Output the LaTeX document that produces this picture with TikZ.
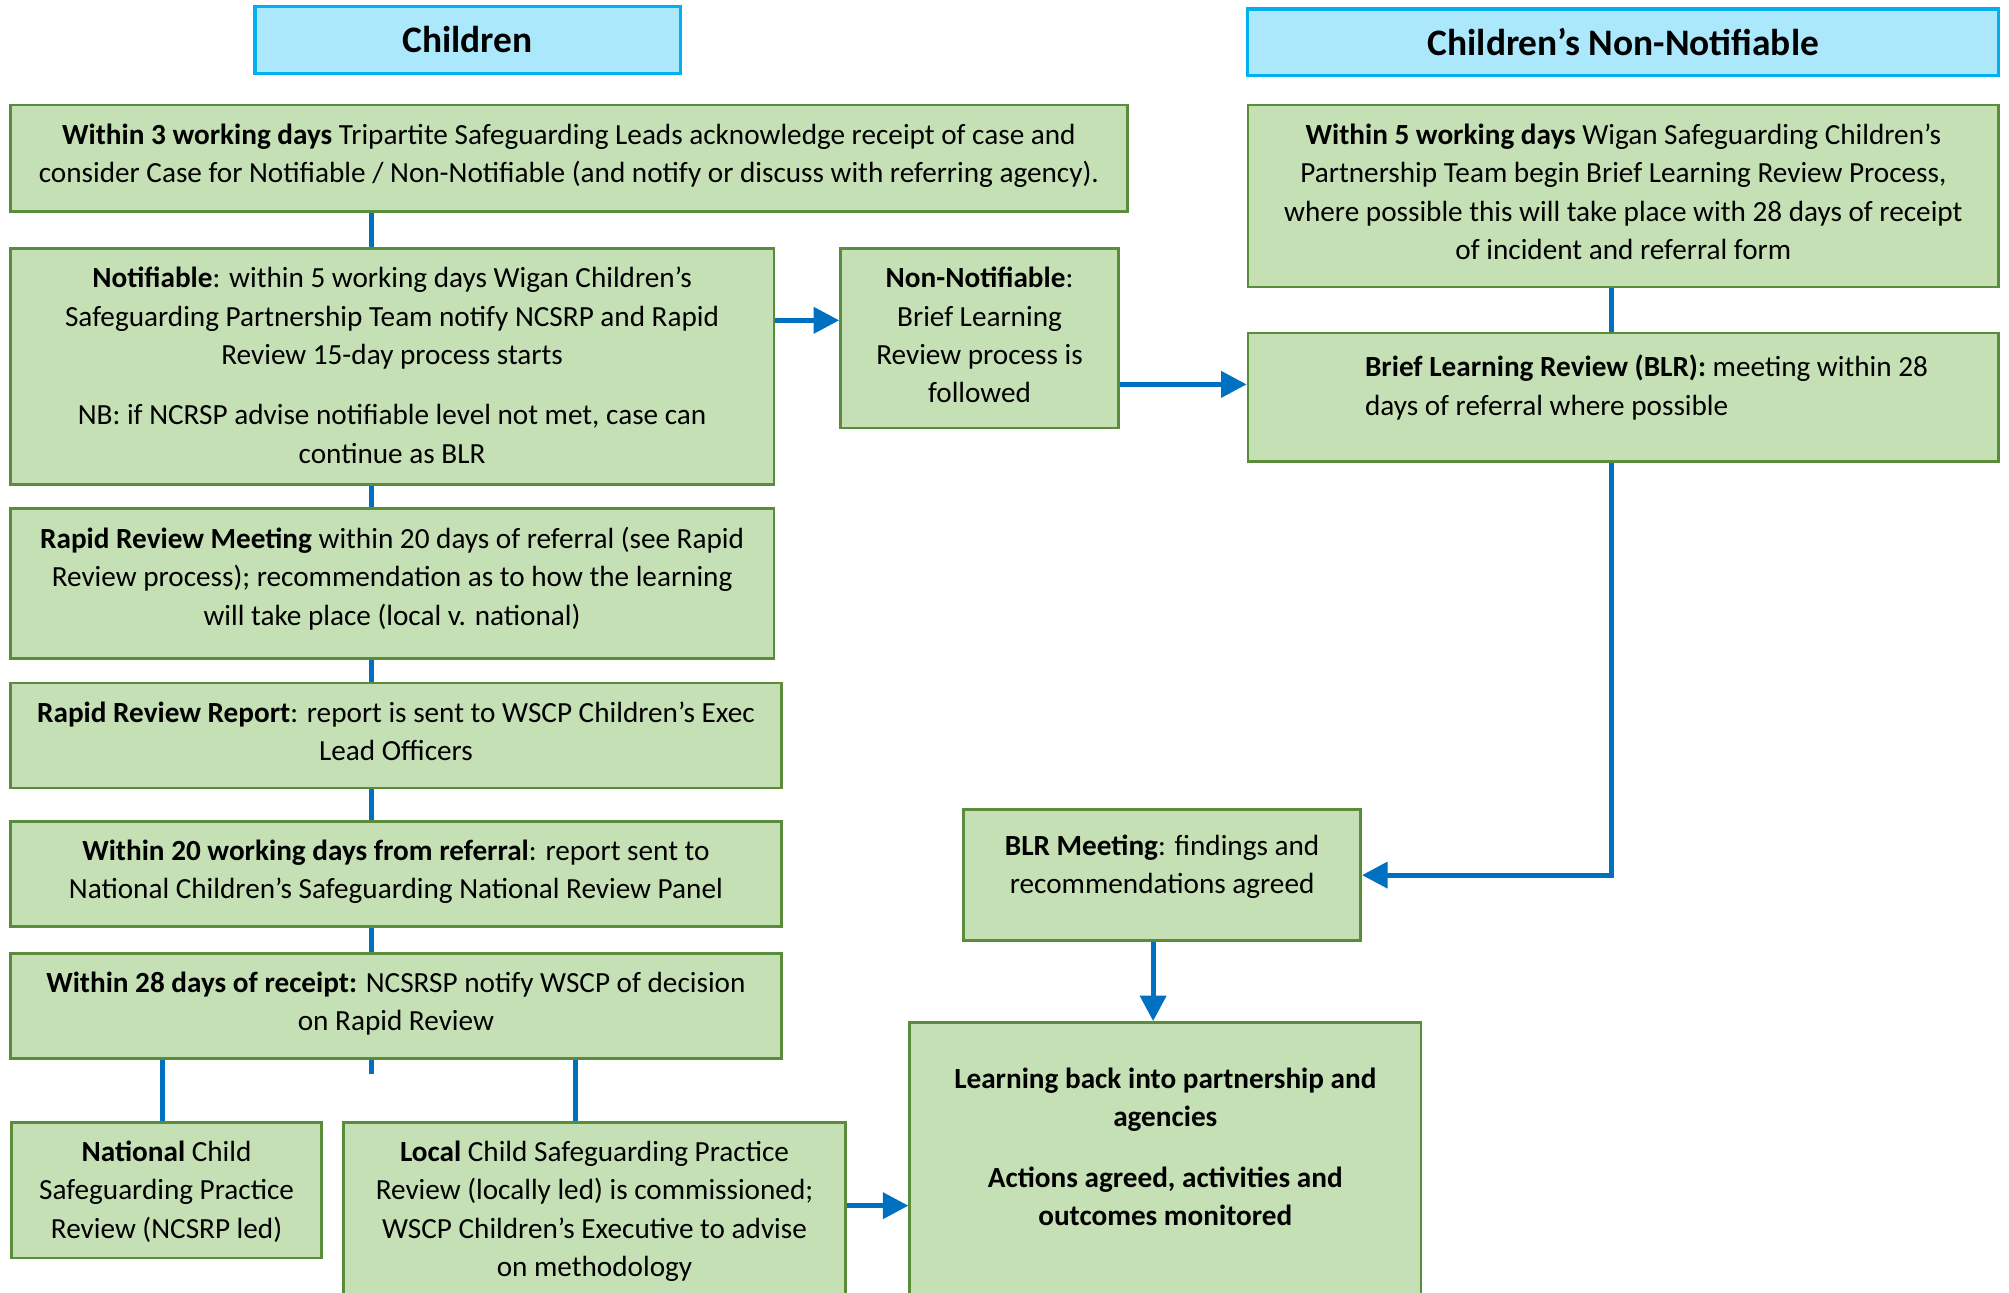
\documentclass[tikz,border=0pt]{standalone}
\usepackage{fontspec}
\setmainfont{Carlito}
\usetikzlibrary{arrows.meta}
\definecolor{gfill}{HTML}{C5E0B4}
\definecolor{gline}{HTML}{5B8C3C}
\definecolor{hfill}{HTML}{ABE8FC}
\definecolor{hline}{HTML}{00B0F0}
\definecolor{conncol}{HTML}{0070C0}
\begin{document}
\begin{tikzpicture}[x=0.5pt,y=-0.5pt,
  gbox/.style={draw=gline,fill=gfill,line width=1pt,inner sep=0pt,rectangle},
  hbox/.style={draw=hline,fill=hfill,line width=1.2pt,inner sep=0pt,rectangle,
    font=\fontsize{14.6}{17}\selectfont\bfseries},
  txt/.style={align=center,inner sep=0pt,yshift=-2pt,font=\fontsize{11.4}{15}\selectfont,
    execute at begin node=\strut,execute at end node=\strut},
  conn/.style={draw=conncol,line width=2pt},
  arr/.style={conn,-{Triangle[length=10pt,width=10pt]}}]
\useasboundingbox (0,0) rectangle (1568,1009);
\fill[white] (0,0) rectangle (1568,1009);

% headers
\node[hbox,minimum width=166pt,minimum height=26pt] (hL) at (365,31) {Children};
\node[hbox,minimum width=293pt,minimum height=26pt] (hR) at (1267,33) {Children’s Non-Notifiable};

% boxes
\node[gbox,minimum width=436pt,minimum height=41.5pt] (A) at (444,123.5) {};
\node[gbox,minimum width=298pt,minimum height=92pt] (B) at (306,286) {};
\node[gbox,minimum width=108.5pt,minimum height=70pt] (C) at (764.5,264) {};
\node[gbox,minimum width=293pt,minimum height=71pt] (D) at (1267,153) {};
\node[gbox,minimum width=293pt,minimum height=50pt] (E) at (1267,310) {};
\node[gbox,minimum width=298pt,minimum height=58.5pt] (F) at (306,455.5) {};
\node[gbox,minimum width=301pt,minimum height=41pt] (G) at (309,574) {};
\node[gbox,minimum width=301pt,minimum height=41pt] (H) at (309,682) {};
\node[gbox,minimum width=301pt,minimum height=41pt] (I) at (309,785) {};
\node[gbox,minimum width=121pt,minimum height=53pt] (J) at (130,929) {};
\node[gbox,minimum width=196pt,minimum height=82pt] (K) at (464,958) {};
\node[gbox,minimum width=155pt,minimum height=51pt] (L) at (907,683) {};
\node[gbox,minimum width=199.5pt,minimum height=121pt] (M) at (909.5,919) {};

% texts
\node[txt] (At) at (444,120) {\textbf{Within 3 working days} Tripartite Safeguarding Leads acknowledge receipt of case and\\consider Case for Notifiable / Non-Notifiable (and notify or discuss with referring agency).};
\node[txt] (Bt) at (306,285.5) {\textbf{Notifiable}: within 5 working days Wigan Children’s\\Safeguarding Partnership Team notify NCSRP and Rapid\\Review 15-day process starts\\[8.5pt]NB: if NCRSP advise notifiable level not met, case can\\continue as BLR};
\node[txt] (Ct) at (764.5,262) {\textbf{Non-Notifiable}:\\Brief Learning\\Review process is\\followed};
\node[txt] (Dt) at (1267,150) {\textbf{Within 5 working days} Wigan Safeguarding Children’s\\Partnership Team begin Brief Learning Review Process,\\where possible this will take place with 28 days of receipt\\of incident and referral form};
\node[txt,align=left,anchor=west] (Et) at (1065,301) {\textbf{Brief Learning Review (BLR):} meeting within 28\\days of referral where possible};
\node[txt] (Ft) at (306,450) {\textbf{Rapid Review Meeting} within 20 days of referral (see Rapid\\Review process); recommendation as to how the learning\\will take place (local v. national)};
\node[txt] (Gt) at (309,571) {\textbf{Rapid Review Report}: report is sent to WSCP Children’s Exec\\Lead Officers};
\node[txt] (Ht) at (309,679) {\textbf{Within 20 working days from referral}: report sent to\\National Children’s Safeguarding National Review Panel};
\node[txt] (It) at (309,782) {\textbf{Within 28 days of receipt:} NCSRSP notify WSCP of decision\\on Rapid Review};
\node[txt] (Jt) at (130,929) {\textbf{National} Child\\Safeguarding Practice\\Review (NCSRP led)};
\node[txt] (Kt) at (464,944) {\textbf{Local} Child Safeguarding Practice\\Review (locally led) is commissioned;\\WSCP Children’s Executive to advise\\on methodology};
\node[txt] (Lt) at (907,675) {\textbf{BLR Meeting}: findings and\\recommendations agreed};
\node[txt,font=\fontsize{11.4}{15}\selectfont\bfseries] (Mt) at (909.5,895.5) {Learning back into partnership and\\agencies\\[8.5pt]Actions agreed, activities and\\outcomes monitored};

% guide coordinates
\coordinate (sp) at (290,0);
\coordinate (sJ) at (127,0);
\coordinate (sK) at (449,0);
\coordinate (sR) at (1258,0);
\coordinate (sLM) at (900,0);
\coordinate (yBC) at (0,250);
\coordinate (yCE) at (0,300);
\coordinate (yKM) at (0,941);
\coordinate (stub) at (290,838);

% connectors
\draw[conn] (A.south -| sp) -- (B.north -| sp);
\draw[conn] (B.south -| sp) -- (F.north -| sp);
\draw[conn] (F.south -| sp) -- (G.north -| sp);
\draw[conn] (G.south -| sp) -- (H.north -| sp);
\draw[conn] (H.south -| sp) -- (I.north -| sp);
\draw[conn] (I.south -| sp) -- (stub);
\draw[conn] (I.south -| sJ) -- (J.north -| sJ);
\draw[conn] (I.south -| sK) -- (K.north -| sK);
\draw[conn] (D.south -| sR) -- (E.north -| sR);
\draw[arr] (B.east |- yBC) -- (C.west |- yBC);
\draw[arr] (C.east |- yCE) -- (E.west |- yCE);
\draw[arr] (E.south -| sR) |- (L.east);
\draw[arr] (L.south -| sLM) -- (M.north -| sLM);
\draw[arr] (K.east |- yKM) -- (M.west |- yKM);
\end{tikzpicture}
\end{document}
